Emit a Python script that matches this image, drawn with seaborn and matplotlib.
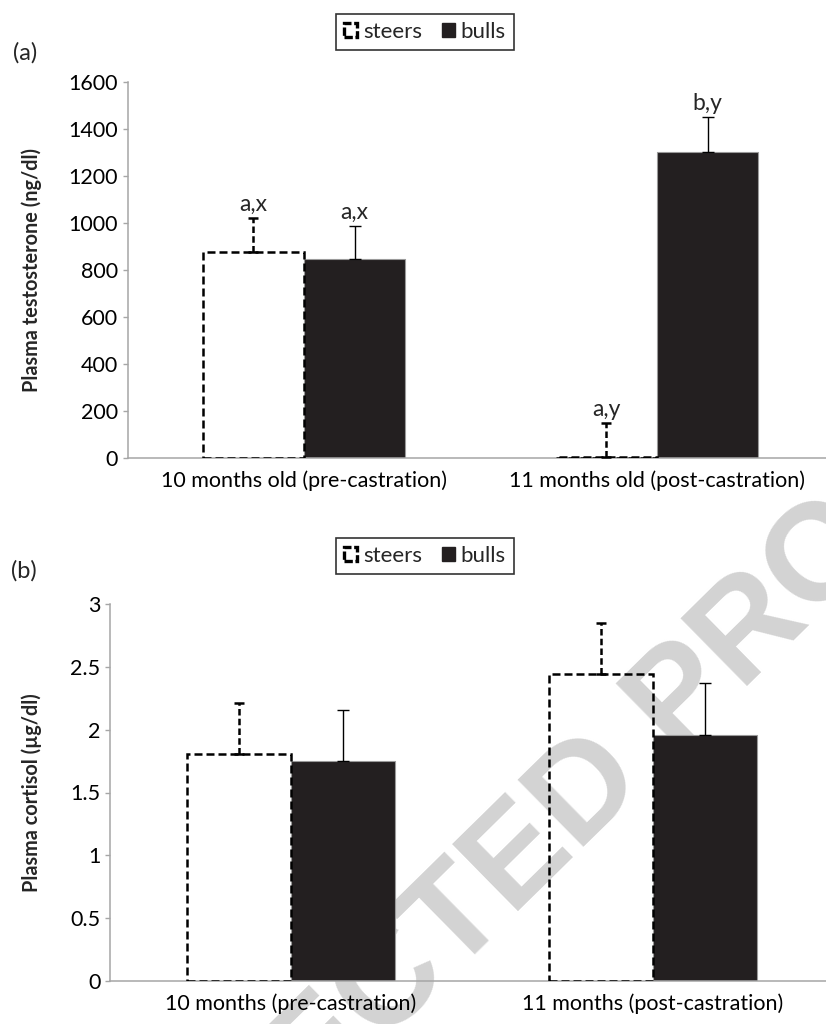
import numpy as np
import pandas as pd
import matplotlib
matplotlib.use("Agg")
import matplotlib.pyplot as plt
import seaborn as sns
from matplotlib.patches import Patch

# ---------------- data ----------------
groups = ["steers", "bulls"]

cats_a = ["10 months old (pre-castration)", "11 months old (post-castration)"]
steers_a = [876, 5]
steers_a_err = [145, 144]
bulls_a = [847, 1302]
bulls_a_err = [140, 149]
letters_steers_a = ["a,x", "a,y"]
letters_bulls_a = ["a,x", "b,y"]
yticks_a = [0, 200, 400, 600, 800, 1000, 1200, 1400, 1600]
yticklabels_a = ["0", "200", "400", "600", "800", "1000", "1200", "1400", "1600"]
ylabel_a = "Plasma testosterone (ng/dl)"

cats_b = ["10 months (pre-castration)", "11 months (post-castration)"]
steers_b = [1.81, 2.44]
steers_b_err = [0.40, 0.41]
bulls_b = [1.75, 1.96]
bulls_b_err = [0.41, 0.41]
yticks_b = [0, 0.5, 1, 1.5, 2, 2.5, 3]
yticklabels_b = ["0", "0.5", "1", "1.5", "2", "2.5", "3"]
ylabel_b = "Plasma cortisol (µg/dl)"

# ---------------- style ----------------
sns.set_style("white")
FONT = ["Lato", "DejaVu Sans"]
plt.rcParams["font.family"] = FONT
TICK_FS = 15.5
LAB_FS = 14.3
ANN_FS = 16.5
LEG_FS = 16
AXCOL = "#a6a6a6"
BULL = "#231f20"

W, H = 826, 1024
fig = plt.figure(figsize=(W / 100, H / 100), dpi=100)
fig.patch.set_facecolor("white")

# watermark (behind everything)
fig.text(430 / W, 1 - 948 / H, "UNCORRECTED PROOF", rotation=44.5,
         rotation_mode="anchor", ha="center", va="center",
         fontsize=99, fontweight="bold", family=["Liberation Sans", "DejaVu Sans"],
         color="#d3d3d3", zorder=-10)


def panel(ax, cats, s, se, b, be, ylabel, yticks, yticklabels, ylim,
          lab_s=None, lab_b=None, ylab_x=-0.12):
    df = pd.DataFrame({
        "cat": cats + cats,
        "group": ["steers"] * len(cats) + ["bulls"] * len(cats),
        "val": s + b,
    })
    sns.barplot(data=df, x="cat", y="val", hue="group", hue_order=groups,
                order=cats, palette={"steers": "white", "bulls": BULL},
                width=0.574, dodge=True, errorbar=None, saturation=1,
                legend=False, ax=ax)
    ax.patch.set_alpha(0)
    steer_c, bull_c = ax.containers[0], ax.containers[1]
    for p in steer_c.patches:
        p.set_facecolor((1, 1, 1, 0))
        p.set_edgecolor("black")
        p.set_linewidth(1.8)
        p.set_linestyle((0, (3.2, 1.6)))
        p.set_joinstyle("miter")
        p.set_zorder(3)
    for p in bull_c.patches:
        p.set_edgecolor("#9a9a9a")
        p.set_linewidth(0.8)
        p.set_zorder(2)

    # error bars (upper only)
    for p, e in zip(steer_c.patches, se):
        xc = p.get_x() + p.get_width() / 2
        v = p.get_height()
        eb = ax.errorbar(xc, v, yerr=[[0], [e]], fmt="none", ecolor="black",
                         elinewidth=1.8, capsize=3.6, capthick=1.8, zorder=4)
        eb[2][0].set_linestyle((0, (2.6, 1.3)))
    for p, e in zip(bull_c.patches, be):
        xc = p.get_x() + p.get_width() / 2
        v = p.get_height()
        ax.errorbar(xc, v, yerr=[[0], [e]], fmt="none", ecolor="black",
                    elinewidth=1.0, capsize=4.3, capthick=1.0, zorder=4)

    if lab_s is not None:
        for cont, errs, labs in ((steer_c, se, lab_s), (bull_c, be, lab_b)):
            for p, e, t in zip(cont.patches, errs, labs):
                xc = p.get_x() + p.get_width() / 2
                ax.annotate(t, (xc, p.get_height() + e), xytext=(0, 2.5),
                            textcoords="offset points", ha="center",
                            va="bottom", fontsize=ANN_FS)

    ax.set_xlim(-0.5, 1.5)
    ax.set_ylim(*ylim)
    ax.set_yticks(yticks)
    ax.set_yticklabels(yticklabels, fontsize=TICK_FS)
    ax.set_xticks([0, 1])
    ax.set_xticklabels(cats, fontsize=TICK_FS)
    ax.set_xlabel("")
    ax.set_ylabel(ylabel, fontsize=LAB_FS, fontweight="bold", va="center")
    ax.yaxis.set_label_coords(ylab_x, 0.5)
    for sp in ("top", "right"):
        ax.spines[sp].set_visible(False)
    for sp in ("left", "bottom"):
        ax.spines[sp].set_color(AXCOL)
        ax.spines[sp].set_linewidth(1.1)
    ax.tick_params(axis="y", left=True, length=3.8, width=1.0, color=AXCOL,
                   pad=3, labelcolor="black")
    ax.tick_params(axis="x", bottom=False, length=0, pad=9, labelcolor="black")


ax_a = fig.add_axes([127.5 / W, 1 - 458 / H, 706 / W, 376 / H])
panel(ax_a, cats_a, steers_a, steers_a_err, bulls_a, bulls_a_err, ylabel_a,
      yticks_a, yticklabels_a, (0, 1600), letters_steers_a, letters_bulls_a,
      ylab_x=(32 - 127.5) / 706)

ax_b = fig.add_axes([110 / W, 1 - 981 / H, 724 / W, 377 / H])
panel(ax_b, cats_b, steers_b, steers_b_err, bulls_b, bulls_b_err, ylabel_b,
      yticks_b, yticklabels_b, (0, 3), ylab_x=(32 - 110) / 724)

# legends
handles = [Patch(facecolor="white", edgecolor="black", linewidth=2.4,
                 linestyle=(0, (2.5, 0.8))),
           Patch(facecolor=BULL, edgecolor=BULL)]
for ycen in (32, 556):
    leg = fig.legend(handles, groups, loc="center",
                     bbox_to_anchor=(425 / W, 1 - ycen / H), ncol=2,
                     frameon=True, fancybox=False, edgecolor="black",
                     handlelength=0.6, handleheight=0.6, handletextpad=0.25,
                     columnspacing=0.9, borderpad=0.35, borderaxespad=0,
                     fontsize=LEG_FS)
    leg.get_frame().set_linewidth(1.2)

fig.text(13 / W, 1 - 53 / H, "(a)", fontsize=17, va="center", ha="left")
fig.text(11 / W, 1 - 571 / H, "(b)", fontsize=17, va="center", ha="left")

fig.savefig("out.png", dpi=100, facecolor="white")
